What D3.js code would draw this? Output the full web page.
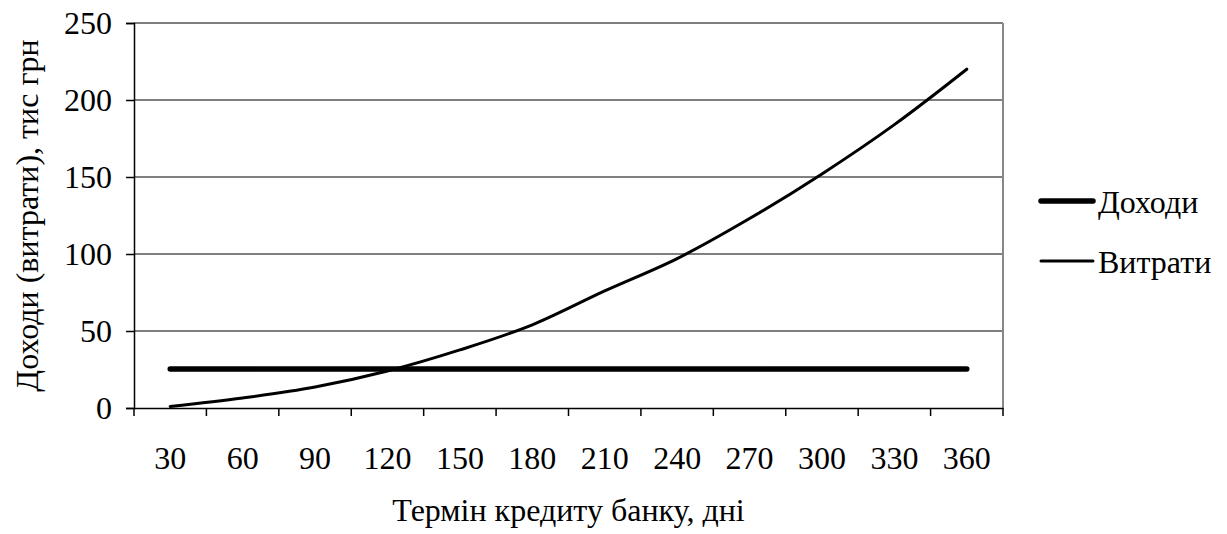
<!DOCTYPE html>
<html>
<head>
<meta charset="UTF-8">
<script src="https://d3js.org/d3.v7.min.js"></script>
<style>
body { margin: 0; }
</style>
</head>
<body>
<svg id="chart" width="1227" height="534"></svg>
<script>
// дані графіка
const days = [30, 60, 90, 120, 150, 180, 210, 240, 270, 300, 330, 360];
const income = [25.4, 25.4, 25.4, 25.4, 25.4, 25.4, 25.4, 25.4, 25.4, 25.4, 25.4, 25.4];
const costs = [1, 6.5, 13.6, 24, 37.7, 54, 76, 97, 123, 152, 184, 220];
const yTicks = [0, 50, 100, 150, 200, 250];

const series = [
    { name: 'Доходи', values: income, width: 5.5 },
    { name: 'Витрати', values: costs, width: 3 }
];

const FONT = '32px "Liberation Serif"';
const margin = { top: 23, right: 224, bottom: 126, left: 134 };
const width = 1227 - margin.left - margin.right;
const height = 534 - margin.top - margin.bottom;

const svg = d3.select('#chart');
const g = svg.append('g')
    .attr('transform', `translate(${margin.left},${margin.top})`);

const x = d3.scaleBand().domain(days).range([0, width]);
const y = d3.scaleLinear().domain([0, 250]).range([height, 0]);

// сітка
g.selectAll('.grid')
    .data(yTicks.filter(d => d > 0))
    .enter().append('line')
    .attr('x1', 0).attr('x2', width)
    .attr('y1', d => y(d)).attr('y2', d => y(d))
    .attr('stroke', '#000').attr('stroke-width', 1);

// права рамка
g.append('line')
    .attr('x1', width).attr('x2', width)
    .attr('y1', 0).attr('y2', height)
    .attr('stroke', '#888').attr('stroke-width', 2);

// вісь Y
const yAxis = g.append('g')
    .call(d3.axisLeft(y).tickValues(yTicks).tickSize(8).tickPadding(14));
yAxis.select('.domain').attr('stroke', '#000').attr('stroke-width', 1.5);
yAxis.selectAll('.tick line').attr('stroke', '#000').attr('stroke-width', 1.5);
yAxis.selectAll('text').style('font', FONT).attr('fill', '#000');

// вісь X
const xAxis = g.append('g')
    .attr('transform', `translate(0,${height})`)
    .call(d3.axisBottom(x).tickSize(0).tickPadding(38));
xAxis.select('.domain').attr('stroke', '#000').attr('stroke-width', 1.5);
xAxis.selectAll('text').style('font', FONT).attr('fill', '#000');

// поділки між категоріями
g.selectAll('.xtick')
    .data(d3.range(days.length + 1))
    .enter().append('line')
    .attr('x1', i => i * x.step()).attr('x2', i => i * x.step())
    .attr('y1', height).attr('y2', height + 8)
    .attr('stroke', '#000').attr('stroke-width', 1.5);

// лінії
const line = d3.line()
    .x((d, i) => x(days[i]) + x.bandwidth() / 2)
    .y(d => y(d))
    .curve(d3.curveMonotoneX);

series.forEach(s => {
    g.append('path')
        .datum(s.values)
        .attr('fill', 'none')
        .attr('stroke', '#000')
        .attr('stroke-width', s.width)
        .attr('stroke-linecap', 'round')
        .attr('d', line);
});

// підписи осей
svg.append('text')
    .attr('x', margin.left + width / 2)
    .attr('y', 521)
    .attr('text-anchor', 'middle')
    .style('font', FONT)
    .text('Термін кредиту банку, дні');

svg.append('text')
    .attr('transform', `translate(38,${margin.top + height / 2}) rotate(-90)`)
    .attr('text-anchor', 'middle')
    .style('font', FONT)
    .text('Доходи (витрати), тис грн');

// легенда
const item = svg.append('g')
    .attr('transform', 'translate(1041,201)')
    .selectAll('g')
    .data(series)
    .enter().append('g')
    .attr('transform', (d, i) => `translate(0,${i * 60})`);

item.append('line')
    .attr('x1', 0).attr('x2', 52)
    .attr('stroke', '#000')
    .attr('stroke-width', d => d.width)
    .attr('stroke-linecap', 'round');

item.append('text')
    .attr('x', 57)
    .attr('y', 12)
    .style('font', FONT)
    .text(d => d.name);
</script>
</body>
</html>
